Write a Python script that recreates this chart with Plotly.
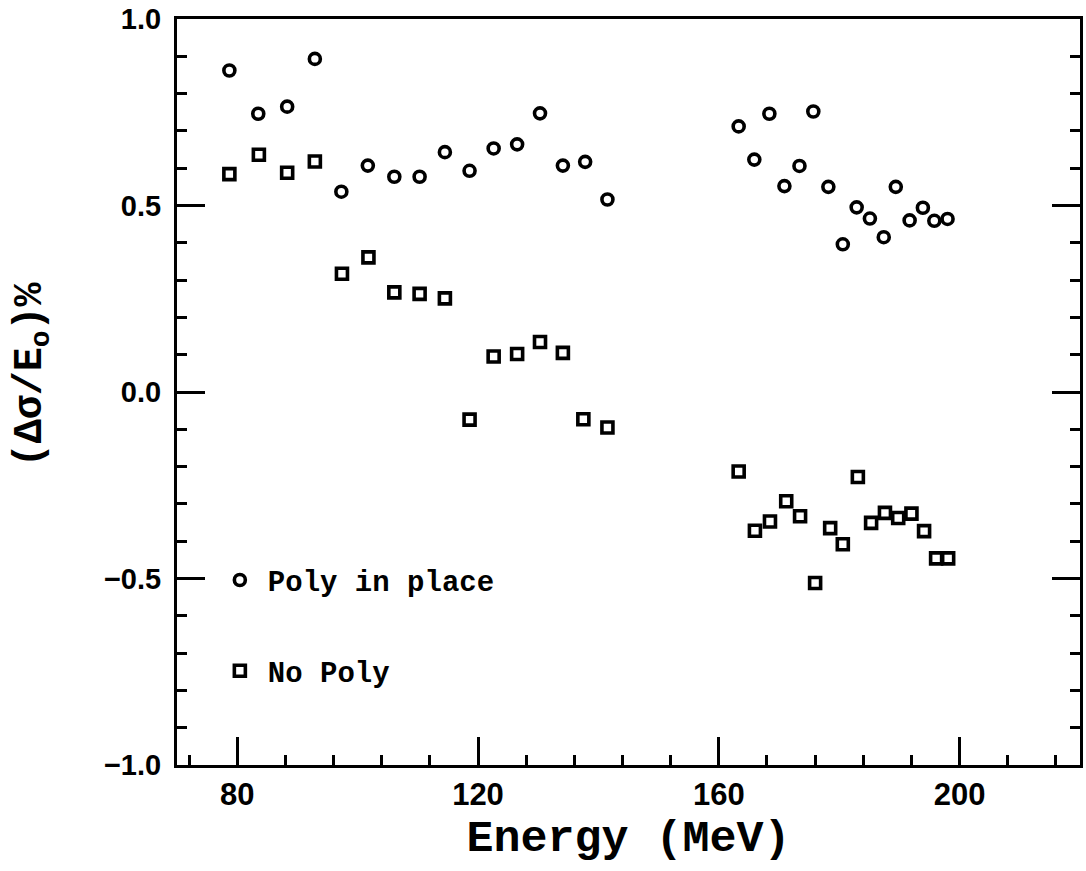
import plotly.graph_objects as go

# Poly in place (circles)
poly_E = [78.7, 83.5, 88.3, 92.9, 97.3, 101.7, 106.1, 110.3, 114.5, 118.6, 122.6, 126.5,
          130.3, 134.1, 137.8, 141.5,
          163.3, 165.9, 168.4, 170.9, 173.4, 175.7, 178.2, 180.6, 182.9, 185.1, 187.4,
          189.4, 191.7, 193.9, 195.8, 198.0]
poly_val = [0.862, 0.746, 0.765, 0.893, 0.537, 0.607, 0.577, 0.577, 0.643, 0.593, 0.653, 0.664,
            0.747, 0.607, 0.617, 0.516,
            0.712, 0.623, 0.746, 0.552, 0.606, 0.752, 0.550, 0.396, 0.495, 0.465, 0.415,
            0.550, 0.460, 0.494, 0.459, 0.464]

# No Poly (squares)
nopoly_E = [78.7, 83.6, 88.3, 92.9, 97.4, 101.8, 106.1, 110.3, 114.5, 118.6, 122.6, 126.5,
            130.3, 134.1, 137.5, 141.5,
            163.3, 166.0, 168.5, 171.2, 173.5, 176.0, 178.5, 180.6, 183.1, 185.3, 187.6,
            189.8, 192.0, 194.1, 196.1, 198.1]
nopoly_val = [0.584, 0.636, 0.588, 0.618, 0.317, 0.361, 0.267, 0.263, 0.251, -0.074, 0.095, 0.102,
              0.134, 0.105, -0.073, -0.095,
              -0.213, -0.372, -0.347, -0.293, -0.333, -0.512, -0.365, -0.408, -0.228, -0.351, -0.324,
              -0.338, -0.326, -0.373, -0.446, -0.446]

x_ticks = [80, 120, 160, 200]
y_ticks = [-1.0, -0.5, 0.0, 0.5, 1.0]

fig = go.Figure()
fig.add_trace(go.Scatter(
    x=poly_E, y=poly_val, mode="markers", name="Poly in place", legendgroup="a",
    marker=dict(symbol="circle-open", size=11, color="black", line=dict(width=3.6, color="black")),
))
fig.add_trace(go.Scatter(
    x=nopoly_E, y=nopoly_val, mode="markers", name="No Poly", legendgroup="b",
    marker=dict(symbol="square-open", size=11, color="black", line=dict(width=3.6, color="black")),
))

fig.update_layout(
    width=1086, height=871,
    margin=dict(l=177, r=3, t=19, b=106),
    paper_bgcolor="white", plot_bgcolor="white",
    showlegend=True,
    legend=dict(
        x=0.0386, y=0.282, xanchor="left", yanchor="top",
        bgcolor="rgba(0,0,0,0)", borderwidth=0,
        font=dict(family="Liberation Mono", size=29, color="black", weight="bold"),
        traceorder="grouped", tracegroupgap=50,
        itemwidth=46,
    ),
    xaxis=dict(
        range=[70, 220], tickvals=x_ticks, ticktext=[str(v) for v in x_ticks],
        ticks="inside", ticklen=28, tickwidth=3, tickcolor="black",
        showline=True, linewidth=3, linecolor="black", mirror=True,
        showgrid=False, zeroline=False,
        minor=dict(tick0=0, dtick=8, ticks="inside", ticklen=10, tickwidth=3, tickcolor="black", showgrid=False),
        tickfont=dict(family="Liberation Sans", size=31, color="black", weight="bold"),
        title=dict(text="Energy (MeV)", standoff=9,
                   font=dict(family="Liberation Mono", size=45, color="black", weight="bold")),
    ),
    yaxis=dict(
        range=[-1, 1], tickvals=y_ticks, tickformat=".1f",
        ticks="inside", ticklen=28, tickwidth=3, tickcolor="black",
        showline=True, linewidth=3, linecolor="black", mirror="ticks",
        showgrid=False, zeroline=False,
        ticklabelstandoff=7,
        minor=dict(tick0=0, dtick=0.1, ticks="inside", ticklen=10, tickwidth=3, tickcolor="black", showgrid=False),
        tickfont=dict(family="Liberation Sans", size=29, color="black", weight="bold"),
    ),
    annotations=[dict(
        text="(Δσ/E<sub>o</sub>)%", textangle=-90,
        xref="paper", yref="paper", x=-0.160, y=0.523,
        xanchor="center", yanchor="middle", showarrow=False,
        font=dict(family="Liberation Mono", size=40, color="black", weight="bold"),
    )],
)

fig.write_html("out.html")
